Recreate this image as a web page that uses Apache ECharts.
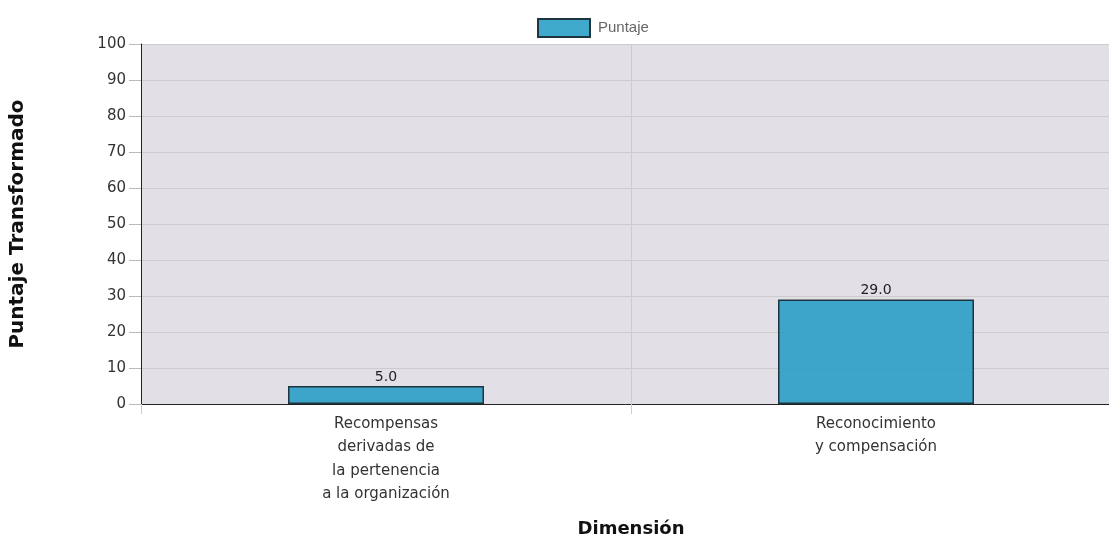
<!DOCTYPE html>
<html>
<head>
<meta charset="utf-8">
<script src="https://cdn.jsdelivr.net/npm/echarts@6/dist/echarts.min.js"></script>
<style>
  html, body { margin: 0; padding: 0; background: #fff; }
  #chart { width: 1109px; height: 537px; }
</style>
</head>
<body>
<div id="chart"></div>
<script>
// datos del gráfico
var categorias = ['Recompensas\nderivadas de\nla pertenencia\na la organización', 'Reconocimiento\ny compensación']
var puntajes = [5.0, 29.0]
var serieNombre = 'Puntaje'

var chart = echarts.init(document.getElementById('chart'))
chart.setOption({
  animation: false,
  textStyle: { fontFamily: 'DejaVu Sans' },
  legend: {
    top: 13,
    left: 532,
    icon: 'rect',
    itemWidth: 52,
    itemHeight: 18,
    itemGap: 8,
    textStyle: { fontFamily: 'Liberation Sans', fontSize: 15, color: '#666', padding: [0, 0, 0, 3] },
    data: [serieNombre]
  },
  grid: {
    left: 141,
    top: 44,
    bottom: 133,
    right: -12,
    outerBoundsMode: 'none',
    containLabel: false,
    show: true,
    backgroundColor: '#e2dfe7',
    borderWidth: 0
  },
  xAxis: {
    type: 'category',
    data: categorias,
    name: 'Dimensión',
    nameLocation: 'middle',
    nameGap: 116,
    nameTextStyle: { fontWeight: 'bold', fontSize: 18, color: '#111' },
    axisLine: { lineStyle: { color: '#222', width: 1 } },
    axisTick: { show: true, alignWithLabel: false, length: 10, lineStyle: { color: '#ccc' } },
    splitLine: { show: true, lineStyle: { color: '#cccccc' } },
    axisLabel: { fontSize: 15, color: '#333', lineHeight: 23.5, margin: 8, interval: 0 }
  },
  yAxis: {
    type: 'value',
    min: 0,
    max: 100,
    interval: 10,
    name: 'Puntaje Transformado',
    nameLocation: 'middle',
    nameGap: 113,
    nameRotate: 90,
    nameTextStyle: { fontWeight: 'bold', fontSize: 20, color: '#111' },
    axisLine: { show: true, lineStyle: { color: '#222', width: 1 } },
    axisTick: { show: true, length: 12, lineStyle: { color: '#bbb' } },
    splitLine: { show: true, lineStyle: { color: '#cccccc' } },
    axisLabel: { fontSize: 15, color: '#333', margin: 15 }
  },
  series: [{
    name: serieNombre,
    type: 'bar',
    data: puntajes,
    barWidth: '40%',
    itemStyle: {
      color: 'rgba(30, 155, 195, 0.85)',
      borderColor: '#1e3540',
      borderWidth: 1.5
    },
    label: {
      show: true,
      position: 'top',
      distance: 2,
      fontSize: 14,
      color: '#222',
      formatter: function (p) { return p.value.toFixed(1) }
    }
  }]
})
</script>
</body>
</html>
